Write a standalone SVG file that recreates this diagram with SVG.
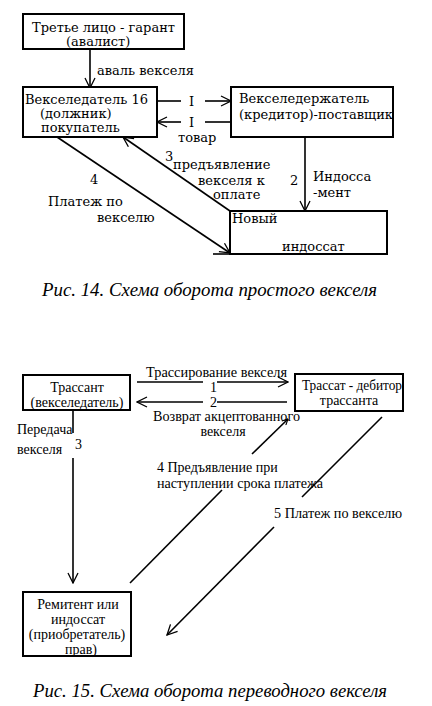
<svg xmlns="http://www.w3.org/2000/svg" width="432" height="706" viewBox="0 0 432 706">
<defs>
<marker id="ah" viewBox="0 0 12 12" refX="11" refY="6" markerWidth="12" markerHeight="12" markerUnits="userSpaceOnUse" orient="auto">
<polyline points="1,1 11,6 1,11" fill="none" stroke="#000" stroke-width="1.3"/>
</marker>
<marker id="ahs" viewBox="0 0 12 12" refX="11" refY="6" markerWidth="7" markerHeight="7" markerUnits="userSpaceOnUse" orient="auto">
<polyline points="1,1 11,6 1,11" fill="none" stroke="#000" stroke-width="2"/>
</marker>
</defs>
<style>
.box{fill:#fff;stroke:#000;stroke-width:2}
.ln{fill:none;stroke:#000;stroke-width:1.6}
.t1{font-family:"DejaVu Serif","Liberation Serif",serif;font-size:13px;fill:#000}
.t2{font-family:"Liberation Serif","Times New Roman",serif;font-size:14px;fill:#000}
.cap{font-family:"Liberation Serif","Times New Roman",serif;font-size:18px;font-style:italic;fill:#000}
</style>
<rect width="432" height="706" fill="#fff"/>

<g id="connectors">
<line class="ln" x1="90" y1="49" x2="90" y2="88" marker-end="url(#ah)"/>
<line class="ln" x1="157" y1="101" x2="181" y2="101"/>
<line class="ln" x1="205" y1="101" x2="231" y2="101" marker-end="url(#ah)"/>
<line class="ln" x1="231" y1="122" x2="205" y2="122"/>
<line class="ln" x1="181" y1="122" x2="157" y2="122" marker-end="url(#ah)"/>
<line class="ln" x1="305" y1="137" x2="305" y2="211" marker-end="url(#ah)"/>
<line class="ln" x1="230" y1="211" x2="123" y2="137" marker-end="url(#ah)"/>
<line class="ln" x1="57" y1="137" x2="230" y2="253" marker-end="url(#ah)"/>

<line class="ln" x1="137" y1="382" x2="203" y2="382"/>
<line class="ln" x1="217" y1="382" x2="288" y2="382" marker-end="url(#ah)"/>
<line class="ln" x1="287" y1="402" x2="217" y2="402"/>
<line class="ln" x1="203" y1="402" x2="137" y2="402" marker-end="url(#ah)"/>
<line class="ln" x1="73" y1="410" x2="73" y2="433"/>
<line class="ln" x1="73" y1="458" x2="73" y2="583" marker-end="url(#ah)"/>
<line class="ln" x1="130" y1="583" x2="222" y2="490"/>
<line class="ln" x1="252" y1="454" x2="288" y2="419" marker-end="url(#ahs)"/>
<line class="ln" x1="382" y1="417" x2="302" y2="497"/>
<line class="ln" x1="274" y1="527" x2="167" y2="635" marker-end="url(#ah)"/>
</g>

<g id="guarantor">
<rect class="box" x="23" y="14" width="161" height="35"/>
<text class="t1" x="32" y="32">Третье лицо - гарант</text>
<text class="t1" x="66" y="46">(авалист)</text>
</g>

<g id="drawer">
<rect class="box" x="23" y="87" width="134" height="50"/>
<text class="t1" x="25" y="104">Векселедатель 16</text>
<text class="t1" x="40" y="118">(должник)</text>
<text class="t1" x="41" y="132">покупатель</text>
</g>

<g id="holder">
<rect class="box" x="231" y="87" width="162" height="50"/>
<text class="t1" x="239" y="103">Векселедержатель</text>
<text class="t1" x="239" y="119" textLength="154" lengthAdjust="spacingAndGlyphs">(кредитор)-поставщик</text>
</g>

<g id="new-endorsee">
<rect class="box" x="230" y="211" width="157" height="43"/>
<line class="ln" x1="213" y1="254" x2="230" y2="254" stroke-width="2"/>
<text class="t1" x="232" y="223">Новый</text>
<text class="t1" x="282" y="251">индоссат</text>
</g>

<g id="labels-top">
<text class="t1" x="97" y="75">аваль векселя</text>
<text class="t1" x="189" y="106">I</text>
<text class="t1" x="189" y="127">I</text>
<text class="t1" x="178" y="142">товар</text>
<text class="t1" x="165" y="161">3</text>
<text class="t1" x="173" y="169">предъявление</text>
<text class="t1" x="198" y="185">векселя к</text>
<text class="t1" x="213" y="199">оплате</text>
<text class="t1" x="290" y="185">2</text>
<text class="t1" x="313" y="181">Индосса</text>
<text class="t1" x="313" y="197">-мент</text>
<text class="t1" x="90" y="184">4</text>
<text class="t1" x="48" y="206">Платеж по</text>
<text class="t1" x="97" y="222">векселю</text>
</g>

<text class="cap" x="42" y="296" textLength="335" lengthAdjust="spacingAndGlyphs">Рис. 14. Схема оборота простого векселя</text>

<g id="drawer2">
<rect class="box" x="23" y="375" width="107" height="35"/>
<text class="t2" x="77" y="392" text-anchor="middle">Трассант</text>
<text class="t2" x="77" y="407" text-anchor="middle">(векселедатель)</text>
</g>

<g id="drawee">
<rect class="box" x="295" y="374" width="108" height="37"/>
<text class="t2" x="302" y="390" textLength="100" lengthAdjust="spacingAndGlyphs">Трассат - дебитор</text>
<text class="t2" x="349" y="405" text-anchor="middle">трассанта</text>
</g>

<g id="remitter">
<rect class="box" x="23" y="592" width="108" height="64"/>
<text class="t2" x="78" y="609" text-anchor="middle">Ремитент или</text>
<text class="t2" x="78" y="624" text-anchor="middle">индоссат</text>
<text class="t2" x="77" y="639" text-anchor="middle">(приобретатель)</text>
<text class="t2" x="81" y="654" text-anchor="middle">прав)</text>
</g>

<g id="labels-bottom">
<text class="t2" x="146" y="377" textLength="141" lengthAdjust="spacingAndGlyphs">Трассирование векселя</text>
<text class="t2" x="210" y="392">1</text>
<text class="t2" x="210" y="407">2</text>
<text class="t2" x="153" y="421" textLength="147" lengthAdjust="spacingAndGlyphs">Возврат акцептованного</text>
<text class="t2" x="223" y="436" text-anchor="middle">векселя</text>
<text class="t2" x="17" y="434">Передача</text>
<text class="t2" x="17" y="454">векселя</text>
<text class="t2" x="75" y="449">3</text>
<text class="t2" x="157" y="472">4 Предъявление при</text>
<text class="t2" x="157" y="488" textLength="166" lengthAdjust="spacingAndGlyphs">наступлении срока платежа</text>
<text class="t2" x="274" y="518" textLength="128" lengthAdjust="spacingAndGlyphs">5 Платеж по векселю</text>
</g>

<text class="cap" x="33" y="697" textLength="354" lengthAdjust="spacingAndGlyphs">Рис. 15. Схема оборота переводного векселя</text>
</svg>
